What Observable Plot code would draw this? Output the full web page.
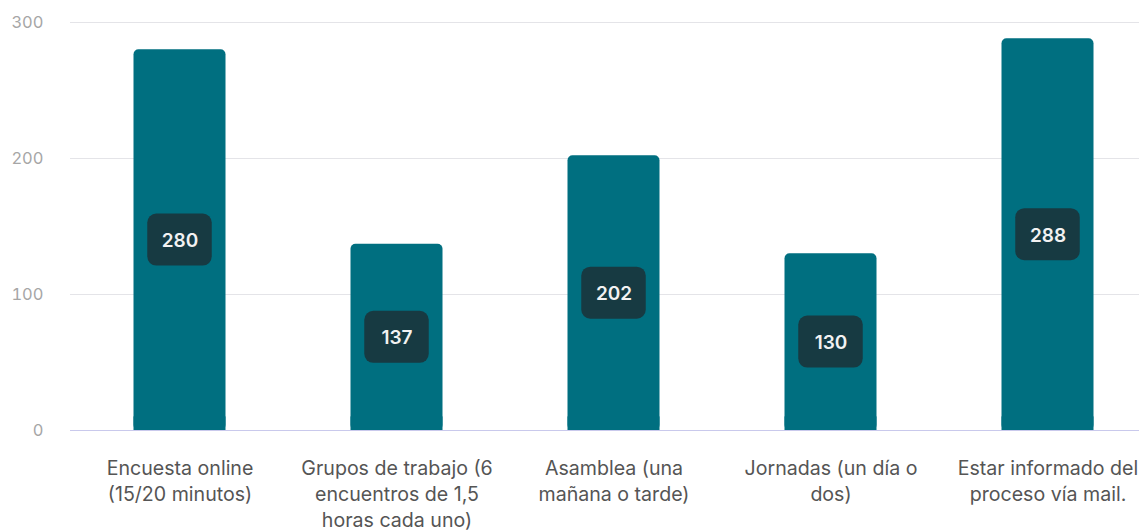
<!DOCTYPE html>
<html><head><meta charset="utf-8">
<script src="https://cdn.jsdelivr.net/npm/d3@7"></script>
<script src="https://cdn.jsdelivr.net/npm/@observablehq/plot@0.6"></script>
<style>body{margin:0;background:#fff;overflow:hidden}</style>
</head><body><div id="chart"></div>
<script>
const categories = ["Encuesta online","Grupos de trabajo","Asamblea","Jornadas","Estar informado"];
const values = [280, 137, 202, 130, 288];
const tickLabels = [
  "Encuesta online\n(15/20 minutos)",
  "Grupos de trabajo (6\nencuentros de 1,5\nhoras cada uno)",
  "Asamblea (una\nmañana o tarde)",
  "Jornadas (un día o\ndos)",
  "Estar informado del\nproceso vía mail."
];
const yTicks = [0, 100, 200, 300];

const data = categories.map((c, i) => ({cat: c, value: values[i], mid: values[i] / 2}));
const labelOf = new Map(categories.map((c, i) => [c, tickLabels[i]]));

const chart = Plot.plot({
  width: 1139,
  height: 531,
  marginTop: 22,
  marginBottom: 101,
  marginLeft: 70,
  marginRight: 0,
  style: {background: "#fff", fontFamily: "Inter, sans-serif"},
  x: {domain: categories, range: [69.75, 1157.25], padding: 0, label: null},
  y: {domain: [0, 300], label: null},
  marks: [
    Plot.gridY(yTicks.filter(d => d > 0), {stroke: "#e4e4e8", strokeOpacity: 1, strokeWidth: 1}),
    Plot.barY(data, {x: "cat", y: "value", fill: "#006f80", insetLeft: 62.5, insetRight: 62.5, rx: 5}),
    Plot.barY(data, {x: "cat", y1: 0, y2: d => Math.min(d.value, 10), fill: "#006f80", insetLeft: 62.5, insetRight: 62.5}),
    Plot.ruleY([0], {stroke: "#c9c9ec", strokeWidth: 1}),
    Plot.rectY(data, {x: "cat", y1: "mid", y2: "mid", fill: "#173a42", insetLeft: 76.25, insetRight: 76.25, insetTop: -26, insetBottom: -26, rx: 9}),
    Plot.text(data, {x: "cat", y: "mid", text: d => String(d.value), fill: "#f2f2f2", fontSize: 19, fontWeight: 600, fontFamily: "Inter, sans-serif", dy: 1}),
    Plot.axisY({ticks: yTicks, tickSize: 0, tickPadding: 27, fontSize: 16.5, fill: "#a6a6a6", fontFamily: "Inter, sans-serif"}),
    Plot.axisX({tickSize: 0, tickPadding: 26, tickFormat: d => labelOf.get(d), fontSize: 19.6, lineHeight: 1.33, fill: "#555", fontFamily: "Inter, sans-serif", textOverflow: null, lineWidth: 100})
  ]
});
document.getElementById("chart").appendChild(chart);
</script>
</body></html>
